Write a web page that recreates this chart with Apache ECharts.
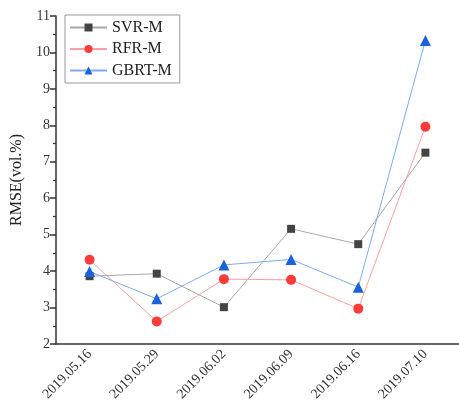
<!DOCTYPE html>
<html><head><meta charset="utf-8">
<script src="https://cdn.jsdelivr.net/npm/echarts@6/dist/echarts.min.js"></script>
<style>html,body{margin:0;padding:0;background:#fff}#c{width:459px;height:413px}</style>
</head><body><div id="c"></div>
<script>
const categories = ['2019.05.16','2019.05.29','2019.06.02','2019.06.09','2019.06.16','2019.07.10'];
const svrM  = [3.86, 3.93, 3.01, 5.16, 4.74, 7.25];
const rfrM  = [4.31, 2.62, 3.78, 3.76, 2.97, 7.96];
const gbrtM = [3.99, 3.24, 4.17, 4.32, 3.56, 10.33];
const yTicks = [2,3,4,5,6,7,8,9,10,11];

const font = 'Liberation Serif';
const axisColor = '#333';
const chart = echarts.init(document.getElementById('c'));
function mk(name, data, symbol, size, mColor, lColor){
  return {name, type:'line', data, symbol, symbolSize:size,
    itemStyle:{color:mColor}, lineStyle:{color:lColor, width:1}, xAxisIndex:0};
}
chart.setOption({
  animation:false,
  grid:{left:56, top:16, width:406, bottom:69, containLabel:false},
  legend:{
    orient:'vertical', left:65, top:15, padding:[4,8,4,4], itemGap:4.5,
    itemWidth:37, itemHeight:10, borderColor:'#999', borderWidth:1,
    textStyle:{fontFamily:font, fontSize:16, color:'#222', lineHeight:17},
    data:['SVR-M','RFR-M','GBRT-M']
  },
  xAxis:[{
    type:'category', data:categories, boundaryGap:true,
    axisLine:{lineStyle:{color:axisColor, width:1.5}},
    axisTick:{alignWithLabel:true, length:6, lineStyle:{color:axisColor, width:1.5}},
    axisLabel:{rotate:45, fontFamily:font, fontSize:14, color:'#333', margin:8}
  },{
    type:'category', data:categories, boundaryGap:true, position:'bottom',
    axisLine:{show:false},
    axisTick:{length:4, lineStyle:{color:axisColor, width:1.2}},
    axisLabel:{show:false}
  }],
  yAxis:{
    type:'value', min:yTicks[0], max:yTicks[yTicks.length-1], interval:1,
    name:'RMSE(vol.%)', nameLocation:'middle', nameGap:30,
    nameTextStyle:{fontFamily:font, fontSize:16, color:'#222'},
    axisLine:{show:true, lineStyle:{color:axisColor, width:1.5}},
    axisTick:{show:true, length:6, lineStyle:{color:axisColor, width:1.5}},
    minorTick:{show:true, splitNumber:2, length:3, lineStyle:{color:axisColor, width:1.2}},
    splitLine:{show:false},
    axisLabel:{fontFamily:font, fontSize:14, color:'#333', margin:6}
  },
  series:[
    mk('SVR-M', svrM, 'rect', 8, '#444', '#a8a8a8'),
    mk('RFR-M', rfrM, 'circle', 10, '#ff3a3a', '#ff9e9e'),
    mk('GBRT-M', gbrtM, 'triangle', 11, '#1a62dc', '#7eaaf2')
  ]
});
</script></body></html>
